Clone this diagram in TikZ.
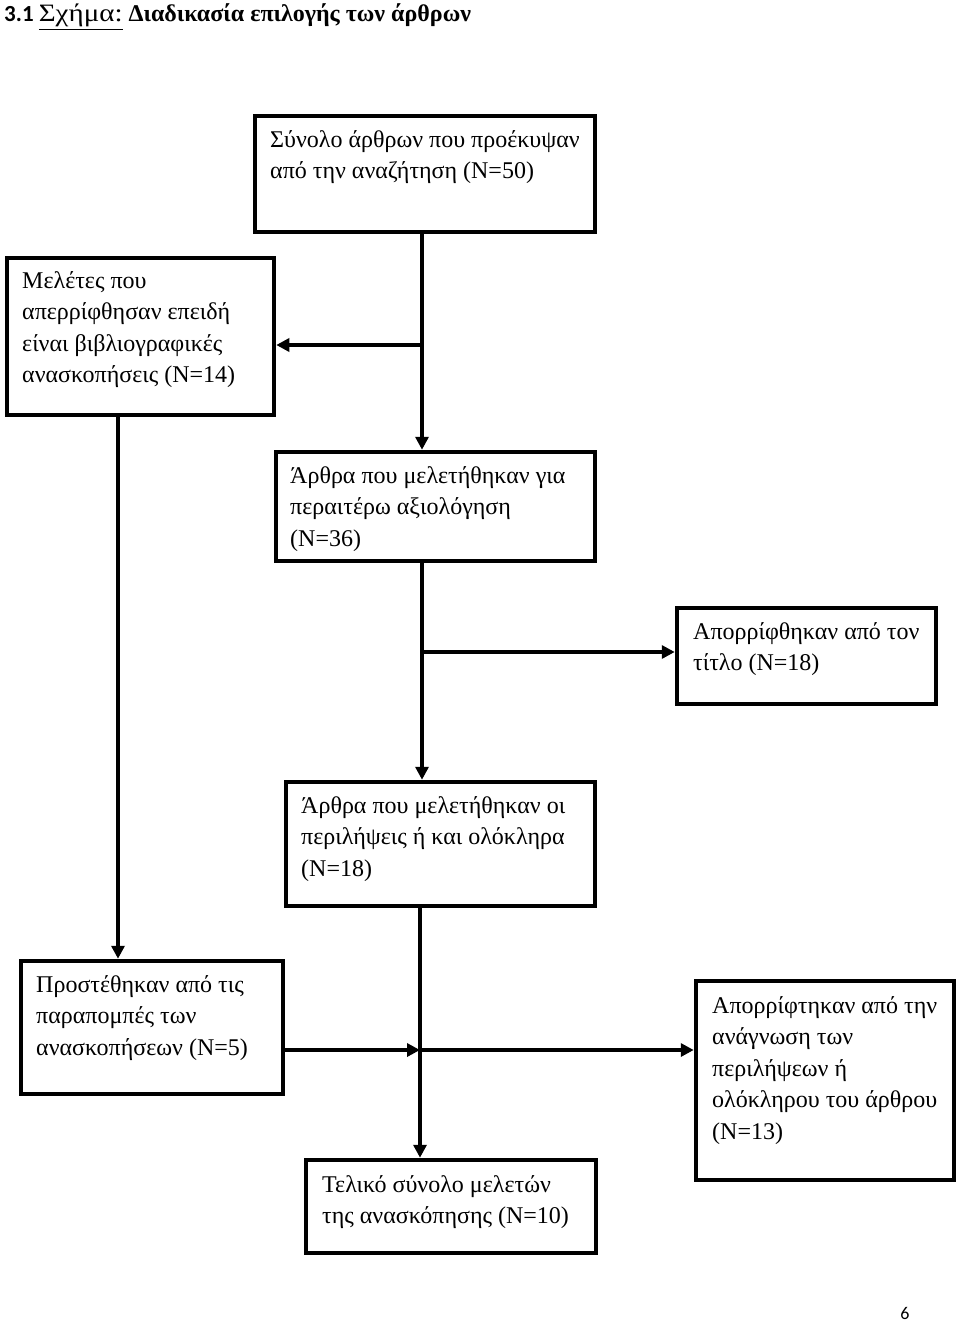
\documentclass[tikz,border=0pt]{standalone}
\usepackage{fontspec}
\usepackage{graphicx}
\setmainfont{Liberation Serif}
\newfontfamily\calibri{Carlito}
\usetikzlibrary{arrows.meta}
\begin{document}
\begin{tikzpicture}[x=1pt,y=-1pt,
  box/.style={draw, line width=4.5pt, inner sep=0pt},
  txt/.style={anchor=north west, inner sep=0pt, align=left, font=\fontsize{24}{31.5}\selectfont},
  conn/.style={line width=4pt, -{Triangle[length=13pt,width=13pt]}},
  plainline/.style={line width=4pt}]
\path[use as bounding box] (0,0) rectangle (960,1324);
% title
\node[anchor=base west, inner sep=0pt] (title) at (4,22)
  {{\calibri\bfseries\fontsize{23}{24}\selectfont 3.1 }{\fontsize{25}{26}\selectfont\underline{\scalebox{1.16}[1]{Σχήμα:}}}\hspace{6pt}{\fontsize{24}{26}\selectfont\bfseries Διαδικασία επιλογής των άρθρων}};
% boxes
\node[box, minimum width=340pt, minimum height=116pt] (b1) at (425,174) {};
\node[box, minimum width=267pt, minimum height=157pt] (b2) at (140.5,336.5) {};
\node[box, minimum width=319pt, minimum height=109pt] (b3) at (435.5,506.5) {};
\node[box, minimum width=259pt, minimum height=96pt] (b4) at (806.5,656) {};
\node[box, minimum width=309pt, minimum height=124pt] (b5) at (440.5,844) {};
\node[box, minimum width=262pt, minimum height=133pt] (b6) at (152,1027.5) {};
\node[box, minimum width=258pt, minimum height=199pt] (b7) at (825,1080.5) {};
\node[box, minimum width=290pt, minimum height=93pt] (b8) at (451,1206.5) {};
% texts
\node[txt] (t1) at (270,125) {\strut Σύνολο άρθρων που προέκυψαν\\από την αναζήτηση (N=50)};
\node[txt] (t2) at (22,266) {\strut Μελέτες που\\απερρίφθησαν επειδή\\είναι βιβλιογραφικές\\ανασκοπήσεις (N=14)};
\node[txt] (t3) at (290,461) {\strut Άρθρα που μελετήθηκαν για\\περαιτέρω αξιολόγηση\\(N=36)};
\node[txt] (t4) at (693,617) {\strut Απορρίφθηκαν από τον\\τίτλο (N=18)};
\node[txt] (t5) at (301,791) {\strut Άρθρα που μελετήθηκαν οι\\περιλήψεις ή και ολόκληρα\\(N=18)};
\node[txt] (t6) at (36,970) {\strut Προστέθηκαν από τις\\παραπομπές των\\ανασκοπήσεων (N=5)};
\node[txt] (t7) at (712,991) {\strut Απορρίφτηκαν από την\\ανάγνωση των\\περιλήψεων ή\\ολόκληρου του άρθρου\\(N=13)};
\node[txt] (t8) at (322,1170) {\strut Τελικό σύνολο μελετών\\της ανασκόπησης (N=10)};
% page number
\node[anchor=base, inner sep=0pt, font=\calibri\fontsize{18}{20}\selectfont] (page) at (905,1319) {6};
% connectors
\coordinate (j1) at (422,345);
\coordinate (j2) at (422,652);
\coordinate (j3) at (420,1050);
\draw[conn] (b1.south -| j1) -- (b3.north -| j1);
\draw[conn] (j1) -- (b2.east |- j1);
\draw[conn] (b2.south -| 118,0) -- (b6.north -| 118,0);
\draw[conn] (b3.south -| j2) -- (b5.north -| j2);
\draw[conn] (j2) -- (b4.west |- j2);
\draw[conn] (b5.south -| j3) -- (b8.north -| j3);
\draw[conn] (b6.east |- j3) -- (j3);
\draw[conn] (j3) -- (b7.west |- j3);
\end{tikzpicture}
\end{document}
